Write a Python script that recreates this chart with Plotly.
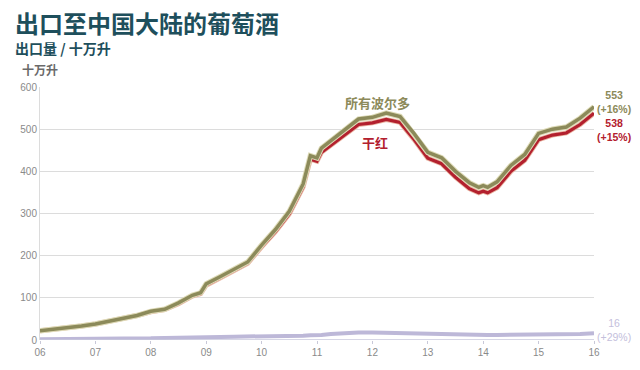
import plotly.graph_objects as go

# decimal years
years = [2006.00, 2006.25, 2006.50, 2006.75, 2007.00, 2007.25, 2007.50, 2007.75,
         2008.00, 2008.25, 2008.50, 2008.75, 2008.90, 2009.00, 2009.25, 2009.50,
         2009.75, 2010.00, 2010.25, 2010.50, 2010.75, 2010.88, 2011.00, 2011.08,
         2011.25, 2011.50, 2011.75, 2012.00, 2012.25, 2012.50, 2012.75, 2013.00,
         2013.25, 2013.50, 2013.75, 2013.92, 2014.00, 2014.08, 2014.25, 2014.50,
         2014.75, 2015.00, 2015.25, 2015.50, 2015.75, 2016.00]

all_bordeaux = [22, 25, 29, 33, 38, 44, 50, 58,
                68, 73, 88, 106, 112, 133, 150, 168,
                185, 225, 262, 305, 370, 437, 432, 455,
                473, 500, 524, 528, 538, 530, 490, 445,
                432, 400, 373, 362, 366, 362, 375, 414,
                440, 490, 500, 505, 526, 553]

dry_red = [22, 25, 29, 33, 38, 44, 50, 58,
           67, 72, 86, 104, 110, 130, 147, 165,
           182, 221, 257, 299, 363, 429, 424, 445,
           462, 488, 511, 515, 523, 516, 476, 431,
           418, 386, 359, 349, 353, 349, 361, 400,
           426, 475, 486, 491, 511, 538]

other = [2, 2, 3, 3, 3, 3, 4, 4,
         4, 5, 5, 6, 6, 7, 7, 8,
         8, 9, 9, 10, 10, 11, 11, 12,
         14, 17, 18, 18, 17, 17, 17, 16,
         15, 13, 12, 12, 12, 12, 12, 12,
         13, 13, 14, 14, 14, 16]

tick_years = [2006, 2007, 2008, 2009, 2010, 2011, 2012, 2013, 2014, 2015, 2016]
tick_labels = ["06", "07", "08", "09", "10", "11", "12", "13", "14", "15", "16"]
y_ticks = [0, 100, 200, 300, 400, 500, 600]

OLIVE = "#8c8a5a"
RED = "#b3202e"
LAV = "#bdb8d8"
TEAL = "#1e4f5c"
CJK = "Noto Sans CJK SC, sans-serif"
NUM = "Liberation Sans, Arial, sans-serif"

fig = go.Figure()
fig.add_trace(go.Scatter(x=years, y=other, mode="lines",
                         line=dict(color=LAV, width=4), hoverinfo="skip"))
fig.add_trace(go.Scatter(x=years, y=dry_red, mode="lines",
                         line=dict(color="#eab6a4", width=5), hoverinfo="skip"))
fig.add_trace(go.Scatter(x=years, y=dry_red, mode="lines",
                         line=dict(color=RED, width=3.2)))
fig.add_trace(go.Scatter(x=years, y=all_bordeaux, mode="lines",
                         line=dict(color="#dedbb8", width=5.5), hoverinfo="skip"))
fig.add_trace(go.Scatter(x=years, y=all_bordeaux, mode="lines",
                         line=dict(color=OLIVE, width=3.5)))

fig.update_layout(
    width=640, height=370,
    margin=dict(l=40, r=46, t=87, b=22),
    paper_bgcolor="white", plot_bgcolor="white",
    showlegend=False,
    font=dict(family=NUM, color="#8a8a8a", size=10),
    xaxis=dict(range=[2006, 2016], tickvals=tick_years, ticktext=tick_labels,
               showgrid=False, zeroline=False, showline=False,
               ticks="outside", ticklen=3, tickcolor="#c8c8d8",
               tickfont=dict(size=10, color="#8a8a8a", family=NUM)),
    yaxis=dict(range=[0, 600], tickvals=y_ticks, showgrid=True,
               gridcolor="#dcdcdc", gridwidth=1, zeroline=False,
               showline=True, linecolor="#dcdcdc", linewidth=1,
               ticks="", tickfont=dict(size=10, color="#8a8a8a", family=NUM)),
)

# baseline axis at 0
fig.add_shape(type="line", xref="paper", yref="y", x0=0, x1=1, y0=0, y1=0,
              line=dict(color="#c8c8dc", width=1.5))

def ann(text, x, y, size, color, bold=False, xref="paper", yref="paper",
        xanchor="left", family=CJK):
    fig.add_annotation(text=f"<b>{text}</b>" if bold else text, x=x, y=y,
                       xref=xref, yref=yref, showarrow=False, xanchor=xanchor,
                       yanchor="middle", font=dict(size=size, color=color, family=family))

H = 370 - 87 - 22
W = 640 - 40 - 46
def px(x): return (x - 40) / W
def py(y): return (348 - y) / H

ann("出口至中国大陆的葡萄酒", px(13), py(20), 24, TEAL, bold=True)
ann("出口量 / 十万升", px(13), py(47), 14, TEAL, bold=True)
ann("十万升", px(20), py(69), 12, "#6a6a6a", bold=True)

ann("所有波尔多", 2012.1, 563, 13, OLIVE, bold=True, xref="x", yref="y", xanchor="center")
ann("干红", 2012.05, 468, 13, RED, bold=True, xref="x", yref="y", xanchor="center")

fig.add_annotation(text="<b>553<br>(+16%)</b>", x=px(614), y=py(102), xref="paper", yref="paper",
                   showarrow=False, xanchor="center", yanchor="middle", align="center",
                   font=dict(size=10.5, color=OLIVE, family=NUM))
fig.add_annotation(text="<b>538<br>(+15%)</b>", x=px(614), y=py(131), xref="paper", yref="paper",
                   showarrow=False, xanchor="center", yanchor="middle", align="center",
                   font=dict(size=10.5, color=RED, family=NUM))
fig.add_annotation(text="16<br>(+29%)", x=px(614), y=py(338), xref="paper", yref="paper",
                   showarrow=False, xanchor="center", yanchor="middle", align="center",
                   font=dict(size=10.5, color="#c4c0dc", family=NUM))

fig.write_html("out.html")
